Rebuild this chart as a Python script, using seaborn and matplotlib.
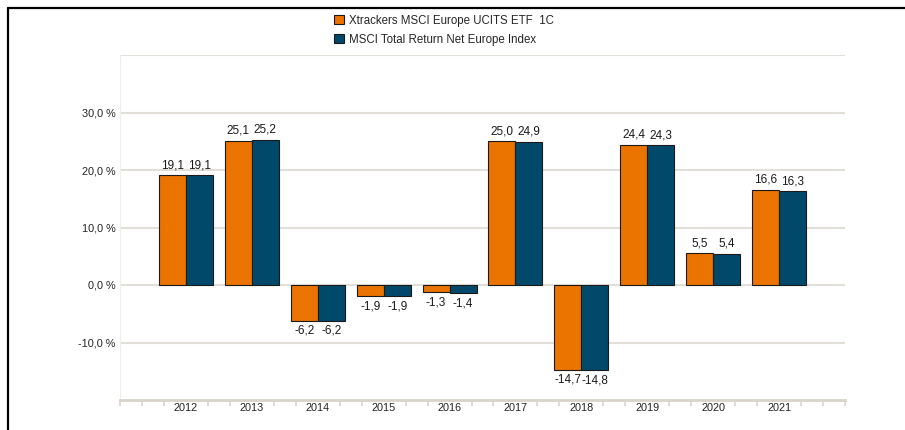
#!/usr/bin/env python3
import matplotlib
matplotlib.use("Agg")
import matplotlib.pyplot as plt
from matplotlib.lines import Line2D
from matplotlib.ticker import FixedLocator
import pandas as pd
import seaborn as sns

YEARS = ["2012", "2013", "2014", "2015", "2016", "2017", "2018", "2019", "2020", "2021"]
ETF_NAME = "Xtrackers MSCI Europe UCITS ETF  1C"
INDEX_NAME = "MSCI Total Return Net Europe Index"
ETF_VALUES = [19.1, 25.1, -6.2, -1.9, -1.3, 25.0, -14.7, 24.4, 5.5, 16.6]
INDEX_VALUES = [19.1, 25.2, -6.2, -1.9, -1.4, 24.9, -14.8, 24.3, 5.4, 16.3]
Y_TICKS = [-10, 0, 10, 20, 30, 40]

ORANGE = "#EB7300"
BLUE = "#00496B"
GRID = "#E2DFD8"
AXIS = "#D8D4CA"


def fmt(v: float) -> str:
    return f"{v:.1f}".replace(".", ",")


def main() -> None:
    sns.set_theme(style="white")
    plt.rcParams["font.family"] = ["Liberation Sans", "DejaVu Sans"]

    df = pd.DataFrame({
        "year": YEARS * 2,
        "value": ETF_VALUES + INDEX_VALUES,
        "series": [ETF_NAME] * len(YEARS) + [INDEX_NAME] * len(YEARS),
    })

    fig = plt.figure(figsize=(9.05, 4.3), dpi=100)
    ax = fig.add_axes([120 / 905, 1 - 400 / 430, 725 / 905, 345 / 430])

    sns.barplot(
        data=df, x="year", y="value", hue="series",
        palette=[ORANGE, BLUE], saturation=1, width=0.82, gap=0,
        edgecolor="#1a1a1a", linewidth=0.8, ax=ax, zorder=3,
    )

    for container, vals in zip(ax.containers, [ETF_VALUES, INDEX_VALUES]):
        ax.bar_label(container, labels=[fmt(v) for v in vals], padding=3,
                     fontsize=8.5, color="#1a1a1a")

    ax.set_xlim(-1, 10)
    ax.set_ylim(-20, 40)
    ax.set_yticks(Y_TICKS)
    ax.set_yticklabels([f"{fmt(t)} %" if t != 40 else "" for t in Y_TICKS])
    ax.yaxis.grid(True, color=GRID, linewidth=1.5, zorder=0)
    ax.xaxis.grid(False)
    ax.tick_params(axis="y", length=0, pad=3, labelsize=7.8, labelcolor="#222222")
    ax.tick_params(axis="x", which="major", length=0, pad=2, labelsize=7.8, labelcolor="#222222")
    minor = [k / 3 for k in range(-3, 31) if k % 3 != 0] + [-1, 10]
    ax.xaxis.set_minor_locator(FixedLocator(minor))
    ax.tick_params(axis="x", which="minor", bottom=True, length=4, width=1.2,
                   color=AXIS, direction="out")
    ax.set_xlabel("")
    ax.set_ylabel("")

    for side in ["top", "right"]:
        ax.spines[side].set_visible(False)
    ax.spines["left"].set_color("#F0EEEA")
    ax.spines["left"].set_linewidth(0.8)
    ax.spines["bottom"].set_color(AXIS)
    ax.spines["bottom"].set_linewidth(2)

    handles, labels = ax.get_legend_handles_labels()
    ax.legend_.remove()
    fig.legend(handles, labels, loc="upper left", bbox_to_anchor=(329 / 905, 1 - 10 / 430),
               frameon=False, fontsize=8.3, handlelength=0.9, handleheight=0.9,
               handletextpad=0.45, labelspacing=0.6, borderaxespad=0)

    fig.add_artist(Line2D([8 / 905, 1], [1 - 8 / 430] * 2, color="black", linewidth=1.6,
                          transform=fig.transFigure))
    fig.add_artist(Line2D([8 / 905] * 2, [0, 1 - 8 / 430], color="black", linewidth=1.6,
                          transform=fig.transFigure))

    fig.savefig("out.png", dpi=100)
    plt.close(fig)


if __name__ == "__main__":
    main()
